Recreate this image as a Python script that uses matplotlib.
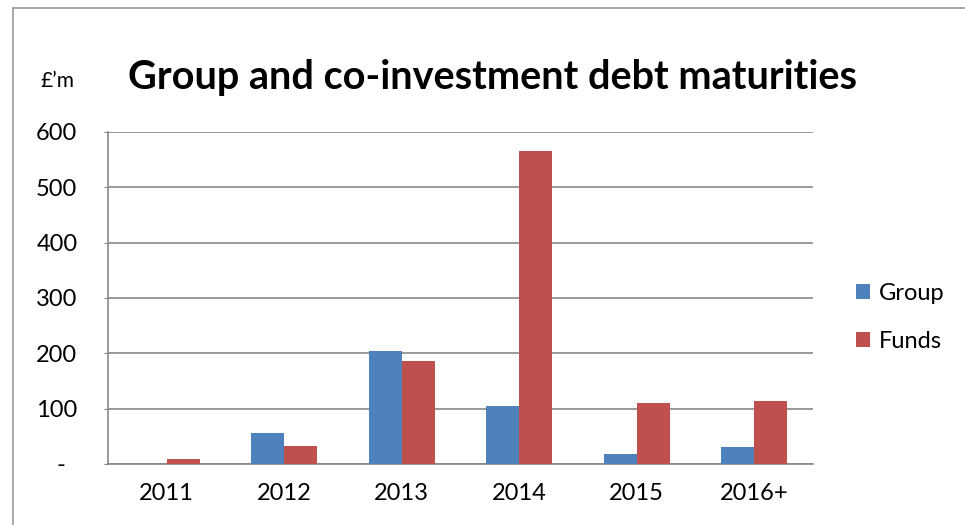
import matplotlib.pyplot as plt
import numpy as np
from matplotlib.lines import Line2D

years = ["2011", "2012", "2013", "2014", "2015", "2016+"]
group = [0, 56, 204, 105, 18, 31]
funds = [9, 33, 186, 566, 110, 114]
yticks = [0, 100, 200, 300, 400, 500, 600]
ytick_labels = ["-  ", "100", "200", "300", "400", "500", "600"]

blue = "#4F81BD"
red = "#C0504D"
font = "Lato"

fig = plt.figure(figsize=(9.65, 5.25), dpi=100)
ax = fig.add_axes([0.1119, 0.1162, 0.7306, 0.6324])

x = np.arange(len(years))
w = 0.28
ax.bar(x - w / 2, group, w, color=blue, label="Group", zorder=3)
ax.bar(x + w / 2, funds, w, color=red, label="Funds", zorder=3)

ax.set_xlim(-0.5, len(years) - 0.5)
ax.set_ylim(0, 600)
ax.set_yticks(yticks)
ax.set_yticklabels(ytick_labels, fontsize=17, family=font)
ax.set_xticks(x)
ax.set_xticklabels(years, fontsize=17, family=font)
ax.tick_params(axis="x", length=0, pad=14)
ax.tick_params(axis="y", length=3, color="#888888", pad=19)

ax.yaxis.grid(True, color="#888888", linewidth=1.2, zorder=0)
for s in ["top", "right"]:
    ax.spines[s].set_visible(False)
for s in ["left", "bottom"]:
    ax.spines[s].set_color("#888888")
    ax.spines[s].set_linewidth(1.2)

ax.legend(loc="center left", bbox_to_anchor=(1.061, 0.442), frameon=False,
          prop={"family": font, "size": 17}, handlelength=0.6, handleheight=0.6,
          labelspacing=1.15, handletextpad=0.35, borderaxespad=0, borderpad=0)

fig.text(0.133, 0.852, "Group and co-investment debt maturities", fontsize=28.5,
         fontweight="bold", family=font, va="center", ha="left")
fig.text(0.0415, 0.846, "£’m", fontsize=15, family=font, va="center", ha="left")

# outer chart frame (left and top edges)
fig.add_artist(Line2D([13 / 965, 13 / 965], [0, 1 - 8 / 525], color="#999999",
                      linewidth=1.2, transform=fig.transFigure))
fig.add_artist(Line2D([13 / 965, 1], [1 - 8 / 525, 1 - 8 / 525], color="#999999",
                      linewidth=1.2, transform=fig.transFigure))

fig.savefig("out.png", dpi=100)
